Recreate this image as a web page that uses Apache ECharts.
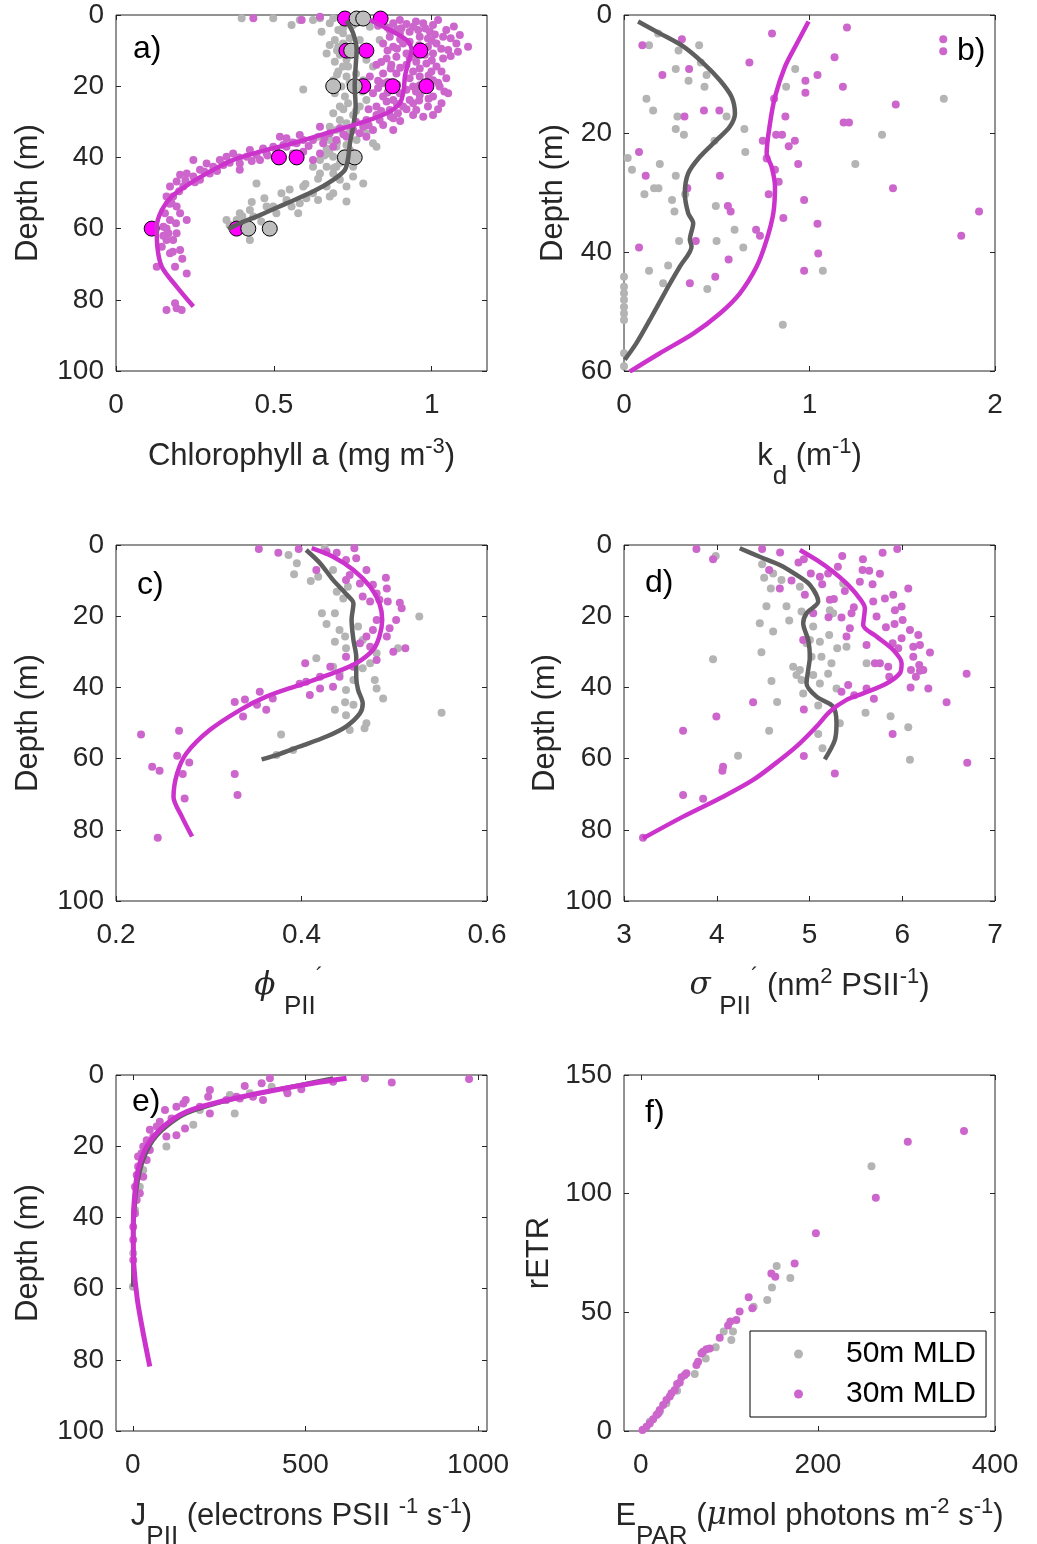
<!DOCTYPE html>
<html><head><meta charset="utf-8">
<script src="https://cdn.jsdelivr.net/npm/echarts@6/dist/echarts.min.js"></script>
<style>html,body{margin:0;padding:0;background:#fff}#c{width:1037px;height:1544px}</style>
</head><body><div id="c"></div>
<script>
// ---------- tick labels ----------
const depthTicks100 = [0, 20, 40, 60, 80, 100];
const depthTicks60 = [0, 20, 40, 60];
const rETRTicks = [0, 50, 100, 150];
const xTicksA = [0, 0.5, 1];
const xTicksB = [0, 1, 2];
const xTicksC = [0.2, 0.4, 0.6];
const xTicksD = [3, 4, 5, 6, 7];
const xTicksE = [0, 500, 1000];
const xTicksF = [0, 200, 400];
const panelLabels = ['a)', 'b)', 'c)', 'd)', 'e)', 'f)'];
const legendNames = ['50m MLD', '30m MLD'];

// ---------- panel a: chlorophyll a vs depth ----------
const aGrayPts = [[0.398,0.9],[0.498,0.9],[0.556,2.8],[0.582,1.4],[0.624,1.4],[0.646,0.9],[0.651,4.7],[0.677,2.3],[0.688,0.9],[0.704,4.2],[0.693,7.0],[0.677,8.4],[0.709,11.2],[0.693,13.1],[0.719,14.5],[0.704,15.9],[0.688,18.3],[0.593,20.9],[0.730,17.3],[0.725,22.9],[0.709,25.7],[0.688,27.6],[0.751,28.1],[0.730,30.4],[0.698,32.3],[0.677,35.1],[0.667,37.5],[0.688,39.8],[0.646,40.7],[0.624,42.6],[0.688,44.5],[0.709,46.3],[0.667,48.2],[0.624,50.1],[0.603,51.5],[0.540,52.0],[0.477,53.8],[0.424,54.8],[0.392,55.7],[0.350,57.6],[0.424,63.2],[0.445,47.3],[0.524,50.1],[0.577,55.7],[0.730,52.4],[0.783,47.3],[0.751,45.4],[0.814,36.0],[0.825,37.0],[0.793,33.2],[0.772,25.7],[0.783,18.3],[0.793,12.6],[0.772,7.0],[0.751,2.8],[0.804,3.3],[0.835,7.0],[0.814,14.5],[0.793,23.9],[0.762,35.1],[0.741,37.9],[0.698,42.6],[0.677,51.0],[0.640,52.0],[0.593,48.2],[0.556,53.8],[0.508,55.7],[0.382,57.6],[0.751,42.6],[0.735,14.5],[0.719,8.0],[0.741,10.8],[0.714,20.1],[0.693,22.0],[0.735,24.8],[0.709,29.5],[0.677,31.4],[0.640,34.2],[0.698,37.0],[0.719,38.9],[0.667,42.6],[0.646,44.5],[0.730,48.2],[0.688,50.1],[0.582,52.9],[0.498,53.8],[0.435,56.6],[0.762,39.8],[0.677,38.9],[0.704,8.9],[0.667,10.8],[0.719,5.1],[0.72,3.5],[0.74,6.5],[0.70,10.0],[0.73,12.5],[0.76,16.5],[0.70,16.8],[0.74,19.0],[0.78,21.5],[0.72,26.5],[0.76,27.0],[0.71,31.8],[0.74,33.0],[0.70,35.8],[0.73,36.5],[0.66,39.5],[0.71,41.5],[0.69,43.0],[0.64,46.0],[0.60,47.5],[0.55,49.0],[0.47,51.5],[0.43,52.5],[0.40,56.5],[0.46,58.0],[0.36,59.0]];
const aMagPts = [[0.435,0.9],[0.588,1.4],[0.646,0.5],[0.846,1.9],[0.878,2.3],[0.899,1.4],[0.941,3.3],[0.973,2.3],[1.004,2.8],[1.020,1.4],[1.046,4.2],[1.089,5.6],[1.115,8.9],[1.083,10.3],[1.036,6.1],[0.994,4.7],[0.962,6.1],[0.930,4.7],[0.899,5.1],[0.867,6.1],[0.846,8.0],[0.878,8.9],[0.909,8.0],[0.988,8.9],[1.004,10.8],[1.036,12.2],[1.015,14.5],[0.983,13.6],[0.951,13.1],[0.888,11.7],[0.857,12.2],[0.825,14.0],[0.846,16.4],[0.888,16.4],[0.941,15.9],[0.962,17.3],[1.004,18.3],[1.025,20.1],[1.004,22.9],[0.962,22.5],[0.930,23.9],[0.899,22.0],[0.878,23.9],[0.846,22.9],[0.814,22.0],[0.804,17.3],[0.825,25.7],[0.867,26.7],[0.909,25.7],[0.951,26.7],[1.004,28.1],[0.973,28.6],[0.941,28.1],[0.878,29.0],[0.835,29.5],[0.793,29.5],[0.751,32.3],[0.793,34.2],[0.878,32.3],[0.846,30.9],[0.814,32.3],[0.709,31.8],[0.677,33.2],[0.646,31.4],[0.624,35.1],[0.582,33.7],[0.572,36.0],[0.540,37.0],[0.498,37.0],[0.466,37.5],[0.445,39.3],[0.414,39.8],[0.392,41.7],[0.350,39.8],[0.340,42.1],[0.308,42.6],[0.287,41.7],[0.266,43.5],[0.245,40.7],[0.224,44.5],[0.203,44.9],[0.192,46.8],[0.171,48.2],[0.160,51.0],[0.176,52.9],[0.155,55.7],[0.150,59.5],[0.171,57.6],[0.192,61.3],[0.160,63.2],[0.145,65.1],[0.181,63.2],[0.171,66.9],[0.203,66.0],[0.224,72.6],[0.129,70.7],[0.187,70.7],[0.160,82.9],[0.192,82.4],[0.208,82.9],[0.187,81.0],[0.624,40.7],[0.646,38.9],[0.593,38.4],[0.561,38.9],[0.688,37.0],[0.751,38.9],[0.772,33.2],[0.519,34.2],[0.477,38.9],[0.392,43.5],[0.266,46.3],[0.867,4.2],[0.904,3.7],[0.957,4.2],[0.988,6.6],[1.015,8.0],[1.052,9.8],[1.078,8.0],[0.920,10.8],[0.946,11.2],[0.978,11.2],[1.031,15.9],[0.999,15.9],[0.962,15.0],[0.920,14.0],[0.872,14.0],[0.841,19.2],[0.872,20.1],[0.941,20.1],[0.962,19.7],[1.046,17.8],[1.052,22.0],[1.031,24.8],[0.988,25.7],[0.941,24.8],[0.893,27.6],[0.857,24.3],[0.825,28.1],[0.783,31.4],[0.730,34.2],[0.698,35.1],[0.656,36.0],[0.593,35.1],[0.540,34.6],[0.508,38.4],[0.456,40.7],[0.424,37.9],[0.371,38.9],[0.329,40.7],[0.297,44.5],[0.245,45.4],[0.213,48.2],[0.181,51.0],[0.192,53.8],[0.203,55.7],[0.166,61.3],[0.224,57.6],[0.83,3.0],[0.86,3.5],[0.89,4.0],[0.92,2.5],[0.95,1.8],[0.98,3.8],[1.01,5.5],[1.06,6.5],[1.07,3.2],[0.90,6.8],[0.93,7.5],[0.96,8.5],[1.00,7.2],[1.03,9.5],[1.06,11.5],[0.86,10.0],[0.89,9.5],[0.93,12.0],[0.97,10.0],[1.00,12.8],[0.84,13.2],[0.87,15.0],[0.90,14.8],[0.93,17.8],[0.99,17.0],[1.02,19.0],[0.83,18.5],[0.86,18.8],[0.89,19.5],[0.92,21.0],[0.95,21.5],[0.98,20.8],[1.04,21.5],[0.83,20.5],[0.86,21.8],[0.89,25.0],[0.92,26.5],[0.96,24.0],[0.99,23.5],[1.02,26.5],[0.80,26.5],[0.84,27.0],[0.87,28.5],[0.90,29.8],[0.80,31.0],[0.76,30.0],[0.72,33.5],[0.66,34.5],[0.61,36.8],[0.56,35.8],[0.53,36.5],[0.48,39.5],[0.43,41.0],[0.39,40.0],[0.36,41.5],[0.32,43.8],[0.28,44.0],[0.25,47.0],[0.22,46.5],[0.20,49.5],[0.17,53.0],[0.19,58.5],[0.16,60.0],[0.18,66.5],[0.21,68.5],[0.15,62.0]];
const aGrayLine = [[0.730,1.6],[0.751,5.1],[0.762,9.8],[0.759,14.5],[0.756,20.1],[0.759,25.7],[0.751,31.4],[0.741,36.0],[0.735,40.3],[0.725,43.5],[0.688,46.3],[0.624,49.6],[0.540,52.9],[0.456,56.2],[0.392,58.5],[0.355,60.2]];
const aMagLine = [[0.804,1.4],[0.867,4.2],[0.920,7.0],[0.936,9.8],[0.925,13.6],[0.915,17.3],[0.911,21.1],[0.899,24.8],[0.857,27.6],[0.772,30.4],[0.667,33.2],[0.561,36.0],[0.456,38.4],[0.371,40.7],[0.308,43.5],[0.234,47.3],[0.176,51.0],[0.145,54.8],[0.129,59.5],[0.131,65.1],[0.145,70.7],[0.192,76.3],[0.245,81.9]];
const aGrayBig = [[0.762,1],[0.783,1],[0.745,10],[0.688,20],[0.756,20],[0.725,40],[0.756,40],[0.419,60],[0.487,60]];
const aMagBig = [[0.725,1],[0.838,1],[0.730,10],[0.793,10],[0.964,10],[0.783,20],[0.876,20],[0.983,20],[0.516,40],[0.572,40],[0.113,60],[0.382,60]];

// ---------- panel b: kd vs depth ----------
const bGrayPts = [[0.184,3.1],[0.135,5.1],[0.294,6.0],[0.405,5.1],[0.414,8.0],[0.279,9.1],[0.348,11.1],[0.445,10.1],[0.434,12.1],[0.923,9.1],[0.874,12.1],[0.121,14.1],[0.157,16.1],[0.288,17.1],[0.553,17.1],[0.279,19.2],[0.323,20.2],[0.488,21.2],[0.649,19.2],[0.654,23.1],[0.020,24.1],[0.043,26.1],[0.193,25.1],[0.279,27.1],[0.162,29.2],[0.186,29.2],[0.110,30.2],[0.341,29.2],[0.330,30.2],[0.259,31.2],[0.272,33.1],[0.495,32.2],[0.596,36.2],[0.297,38.1],[0.499,38.1],[0.643,39.2],[0.135,43.1],[0.238,42.2],[0.211,45.2],[0.449,46.2],[1.072,43.1],[1.391,20.2],[1.247,25.1],[1.724,14.1],[0.856,52.2],[0,44.1],[0,45.8],[0,46.9],[0,48.0],[0,49.2],[0,50.3],[0,51.4],[0,57.0],[0,59.2]];
const bMagPts = [[1.202,2.1],[0.798,3.1],[0.099,5.1],[0.312,4.1],[0.676,8.0],[1.135,7.1],[0.207,10.1],[0.351,9.1],[1.043,10.1],[0.978,11.1],[0.978,13.1],[1.180,12.1],[1.465,15.1],[0.809,14.1],[0.870,17.1],[0.431,16.1],[0.514,16.1],[0.326,17.1],[1.184,18.1],[1.213,18.1],[0.820,20.2],[0.852,20.2],[0.748,21.2],[0.921,21.2],[0.888,22.1],[0.081,23.1],[0.769,24.2],[0.939,25.1],[0.117,27.1],[0.517,27.1],[0.814,26.1],[0.834,28.1],[1.450,29.2],[0.780,30.2],[0.341,29.2],[0.971,31.2],[0.560,32.2],[0.575,33.1],[0.859,34.2],[1.043,35.2],[0.712,36.2],[0.733,37.2],[0.387,38.1],[1.914,33.1],[1.818,37.2],[0.081,39.2],[1.047,40.2],[0.564,41.2],[0.971,43.1],[0.492,44.1],[0.355,45.2],[1.721,4.1],[1.721,6.1]];
const bGrayLine = [[0.076,1.1],[0.193,3.1],[0.319,5.3],[0.427,8.1],[0.517,11.0],[0.580,13.8],[0.598,16.6],[0.571,18.8],[0.499,21.1],[0.409,23.9],[0.346,26.7],[0.328,30.1],[0.346,33.4],[0.373,35.1],[0.355,37.9],[0.364,39.0],[0.301,42.4],[0.229,46.3],[0.139,51.4],[0.067,55.3],[0.004,58.1]];
const bMagLine = [[0.995,1.1],[0.932,4.8],[0.868,8.7],[0.814,13.8],[0.787,18.3],[0.769,23.3],[0.796,25.6],[0.814,28.9],[0.805,33.4],[0.769,37.9],[0.715,42.4],[0.625,46.9],[0.517,50.3],[0.373,53.7],[0.193,57.0],[0.031,60.1]];

// ---------- panel c: phi_PII' vs depth ----------
const cGrayPts = [[0.386,2.8],[0.395,5.1],[0.392,8.2],[0.410,10.1],[0.418,8.9],[0.425,0.9],[0.434,7.0],[0.438,13.1],[0.445,15.0],[0.450,11.7],[0.422,19.2],[0.427,22.2],[0.436,19.2],[0.441,23.9],[0.436,27.2],[0.448,29.0],[0.447,25.7],[0.461,22.9],[0.466,26.7],[0.481,30.4],[0.504,29.0],[0.527,20.1],[0.416,31.8],[0.434,34.2],[0.441,36.0],[0.456,37.9],[0.466,34.6],[0.479,37.9],[0.481,40.3],[0.488,43.1],[0.448,40.7],[0.447,44.2],[0.456,44.9],[0.436,46.3],[0.448,47.8],[0.452,52.0],[0.470,50.1],[0.468,51.5],[0.378,53.2],[0.551,47.1],[0.391,57.6],[0.373,59.0],[0.474,33.2]];
const cMagPts = [[0.354,1.1],[0.375,2.2],[0.397,1.1],[0.416,7.0],[0.427,1.9],[0.438,2.2],[0.448,4.2],[0.457,0.9],[0.459,3.7],[0.448,9.8],[0.452,8.4],[0.463,10.8],[0.470,7.0],[0.477,11.2],[0.491,9.2],[0.492,12.2],[0.466,14.5],[0.474,15.9],[0.481,13.6],[0.484,15.4],[0.493,15.9],[0.506,16.2],[0.508,17.8],[0.502,21.1],[0.495,23.4],[0.492,25.7],[0.499,30.0],[0.512,29.0],[0.481,21.1],[0.477,23.9],[0.470,25.7],[0.463,27.6],[0.474,28.6],[0.481,32.3],[0.456,34.2],[0.441,37.0],[0.431,34.2],[0.404,33.2],[0.420,37.0],[0.409,42.1],[0.398,39.0],[0.405,38.4],[0.434,39.8],[0.420,40.3],[0.355,41.2],[0.369,43.1],[0.362,46.3],[0.352,44.9],[0.339,43.4],[0.328,44.1],[0.337,48.2],[0.227,53.2],[0.268,52.2],[0.266,59.2],[0.279,61.1],[0.239,62.3],[0.247,63.4],[0.272,64.3],[0.328,64.3],[0.274,71.2],[0.331,70.2],[0.245,82.2],[0.448,31.4]];
const cGrayLine = [[0.405,1.4],[0.420,5.1],[0.434,9.8],[0.449,14.0],[0.456,16.4],[0.454,21.1],[0.456,26.7],[0.459,31.4],[0.459,37.0],[0.461,40.7],[0.466,44.5],[0.463,47.3],[0.448,51.0],[0.427,53.8],[0.398,56.6],[0.373,59.0],[0.357,60.2]];
const cMagLine = [[0.411,0.9],[0.434,3.3],[0.456,7.0],[0.474,11.7],[0.484,16.4],[0.487,21.1],[0.484,25.7],[0.477,29.5],[0.459,33.2],[0.434,36.0],[0.398,39.3],[0.362,42.6],[0.334,46.3],[0.301,52.0],[0.276,58.5],[0.266,64.1],[0.262,70.7],[0.271,76.3],[0.282,81.9]];

// ---------- panel d: sigma_PII' vs depth ----------
const dGrayPts = [[3.989,3.1],[4.489,5.4],[4.511,9.2],[4.608,8.0],[4.583,12.2],[4.536,17.2],[4.698,9.8],[4.752,17.2],[4.781,21.2],[4.896,11.7],[4.914,18.7],[5.040,22.9],[5.004,26.7],[5.112,27.2],[5.219,18.3],[5.212,25.3],[5.299,29.0],[5.399,28.6],[5.129,31.4],[5.237,33.2],[5.201,36.2],[5.040,36.5],[4.824,34.2],[4.860,36.5],[4.914,37.9],[4.932,41.7],[5.112,38.9],[5.094,45.1],[5.140,57.1],[5.291,40.3],[5.327,50.1],[5.615,33.2],[5.604,47.1],[5.874,48.1],[6.065,51.2],[6.083,60.3],[4.464,22.0],[4.608,24.3],[4.482,30.1],[3.960,32.1],[4.590,38.2],[4.651,44.1],[4.565,52.2],[4.230,59.2],[5.094,53.1],[4.968,27.6],[5.022,31.4],[4.896,35.1],[5.363,10.8],[5.255,19.2]];
const dMagPts = [[3.781,1.1],[3.960,4.0],[4.489,1.1],[4.565,7.0],[4.683,2.1],[4.680,12.2],[4.806,10.0],[4.881,4.9],[4.939,4.0],[4.950,14.0],[5.014,8.0],[5.112,8.9],[5.137,11.0],[5.201,8.0],[5.263,15.2],[5.306,6.1],[5.353,3.1],[5.381,12.9],[5.453,19.2],[5.478,17.5],[5.543,10.3],[5.576,4.0],[5.572,7.0],[5.644,7.2],[5.680,11.0],[5.759,8.1],[5.788,2.2],[5.946,1.1],[5.813,15.0],[5.903,14.0],[5.921,18.3],[5.993,17.3],[6.004,21.1],[6.065,12.2],[5.687,15.9],[5.723,20.1],[5.824,23.1],[5.917,22.2],[5.896,27.6],[5.957,29.0],[5.993,26.2],[6.083,23.9],[6.173,25.3],[6.119,28.6],[6.191,28.1],[6.299,30.2],[6.119,31.4],[6.183,33.7],[6.094,35.1],[6.191,35.3],[6.227,35.1],[6.147,37.0],[6.090,40.0],[6.281,40.3],[6.478,44.2],[6.694,36.2],[6.701,61.2],[5.759,33.2],[5.705,33.2],[5.849,34.2],[5.860,37.0],[5.615,40.3],[5.694,43.2],[5.482,42.2],[5.417,39.3],[5.345,41.2],[4.939,46.2],[4.392,44.2],[3.996,48.2],[3.637,52.2],[5.896,53.1],[4.939,59.3],[5.273,64.2],[4.068,62.3],[4.061,63.4],[3.637,70.2],[3.853,71.3],[3.205,82.2],[5.615,28.1],[5.435,23.4],[5.345,20.4],[5.205,20.3],[4.932,26.7],[5.399,25.7],[5.040,19.2],[5.219,15.4]];
const dGrayLine = [[4.248,0.9],[4.464,3.3],[4.680,5.6],[4.860,8.4],[5.004,11.2],[5.094,15.9],[4.968,19.2],[4.932,22.0],[4.986,26.7],[5.004,31.4],[4.986,35.1],[4.968,38.9],[5.076,42.6],[5.255,45.4],[5.291,50.1],[5.273,54.8],[5.165,60.2]];
const dMagLine = [[4.896,1.4],[5.076,4.2],[5.255,7.5],[5.399,10.8],[5.525,14.5],[5.597,17.8],[5.579,22.5],[5.723,25.7],[5.903,29.5],[5.993,33.2],[5.975,36.0],[5.831,38.9],[5.579,41.7],[5.399,43.5],[5.219,46.8],[5.076,51.0],[4.896,55.7],[4.680,60.4],[4.392,66.0],[4.068,70.7],[3.637,76.3],[3.205,82.4]];

// ---------- panel e: J_PII vs depth ----------
const eGrayPts = [[402,3.3],[672,0.9],[281,5.6],[295,10.8],[175,14.0],[97,20.1],[194,9.8],[339,5.1],[20,31.4],[1,50.1],[0,59.5],[6,37.9],[30,26.7]];
const eMagPts = [[397,0.9],[672,0.9],[750,2.1],[974,1.1],[488,4.0],[448,5.1],[373,2.3],[324,3.1],[348,6.1],[377,7.0],[310,6.6],[223,4.2],[218,6.1],[153,7.0],[146,8.0],[223,10.8],[194,8.9],[126,8.9],[93,9.8],[112,12.2],[78,13.1],[69,14.5],[49,15.4],[59,17.3],[40,18.3],[30,20.1],[25,22.0],[40,23.9],[15,25.7],[11,28.1],[6,31.4],[11,35.1],[6,38.9],[1,42.6],[1,46.3],[1,52.0],[15,22.9],[49,21.1],[97,17.3],[126,16.9],[151,15.0],[271,7.0],[300,6.1],[445,4.2],[580,1.9],[30,28.6],[20,33.2]];
const eGrayLine = [[580,0.9],[484,2.8],[368,5.1],[242,8.0],[155,10.8],[97,14.5],[59,18.3],[30,23.9],[15,29.5],[7,35.1],[2,42.6],[1,52.0],[0,59.5]];
const eMagLine = [[619,0.9],[522,2.3],[387,4.7],[252,7.5],[155,10.3],[88,14.5],[40,20.1],[15,26.7],[4,35.1],[1,44.5],[3,53.8],[13,63.2],[30,72.6],[49,81.9]];

// ---------- panel f: rETR vs E_PAR ----------
const fGrayPts = [[260.5,111.5],[153.4,69.5],[168.8,64.5],[148.1,60.5],[142.8,55.2],[127.4,52.4],[104.1,41.9],[93.6,41.9],[102.2,38.3],[84.6,35.3],[73.3,30.6],[60.9,24.0],[41.0,17.0],[28.9,11.7],[21.4,8.1],[10.1,3.9]];
const fMagPts = [[365.0,126.4],[301.5,121.9],[265.4,98.3],[197.7,83.3],[173.7,70.6],[147.4,66.4],[151.9,65.0],[121.8,56.4],[125.9,51.7],[111.6,50.3],[107.9,46.8],[101.1,46.1],[98.5,44.4],[89.1,39.3],[77.8,34.8],[74.1,34.4],[70.3,33.4],[68.4,32.7],[64.7,29.2],[62.8,27.8],[51.5,24.3],[45.9,22.6],[44.0,20.4],[38.3,17.3],[34.6,15.9],[28.9,13.1],[25.2,11.0],[21.4,8.9],[17.7,6.7],[13.9,4.9],[10.1,3.2],[6.4,1.8],[1.9,0.4],[49.6,23.6],[41.0,19.8],[32.7,14.5],[19.5,7.4]];

// ---------- styling ----------
const FONT = '"Liberation Sans", Arial, Helvetica, sans-serif';
const SERIF = '"DejaVu Serif", "Liberation Serif", serif';
const AX = '#262626';
const GRAY_PT = '#b4b4b4', MAG_PT = '#cc66cc';
const GRAY_LN = '#5e5e5e', MAG_LN = '#cc33cc';
const NAME_SIZE = 31;
const NAME_LH = 56;
const RICH = {
  sup: {fontSize: 22, height: 38, verticalAlign: 'top', fontFamily: FONT, color: AX},
  sub: {fontSize: 26, height: 14, verticalAlign: 'bottom', fontFamily: FONT, color: AX},
  gk: {fontSize: 31, lineHeight: NAME_LH, fontFamily: SERIF, fontStyle: 'italic', color: AX}
};

const grids = [
  {left: 116, top: 15}, {left: 624, top: 15},
  {left: 116, top: 545}, {left: 624, top: 545},
  {left: 116, top: 1075}, {left: 624, top: 1075}
].map(g => Object.assign(g, {width: 371, height: 356, show: true, borderColor: AX, borderWidth: 1,
  backgroundColor: 'transparent', containLabel: false, outerBoundsMode: 'none'}));

function tick(ticks) { return {show: true, inside: true, length: 5, lineStyle: {color: AX, width: 1}, customValues: ticks}; }
const plain = v => String(v);

function xAxes(g, min, max, ticks, name, fmt) {
  const common = () => ({gridIndex: g, type: 'value', min: min, max: max, splitLine: {show: false}, axisLine: {show: false, onZero: false}});
  const bt = Object.assign(common(), {
    position: 'bottom', name: name, nameLocation: 'middle', nameGap: 57,
    nameTextStyle: {fontSize: NAME_SIZE, color: AX, fontFamily: FONT, lineHeight: NAME_LH, rich: RICH},
    axisTick: tick(ticks),
    axisLabel: {show: true, margin: 20, fontSize: 28, lineHeight: 28, color: AX, fontFamily: FONT, customValues: ticks, formatter: fmt || plain}
  });
  const tp = Object.assign(common(), {position: 'top', axisTick: tick(ticks), axisLabel: {show: false}});
  return [bt, tp];
}
function yAxes(g, min, max, ticks, inverse, name, gap) {
  const common = () => ({gridIndex: g, type: 'value', min: min, max: max, inverse: inverse, splitLine: {show: false}, axisLine: {show: false, onZero: false}});
  const lf = Object.assign(common(), {
    position: 'left', name: name, nameLocation: 'middle', nameGap: gap, nameRotate: 90,
    nameTextStyle: {fontSize: NAME_SIZE, color: AX, fontFamily: FONT, lineHeight: 31},
    axisTick: tick(ticks),
    axisLabel: {show: true, margin: 12, fontSize: 28, color: AX, fontFamily: FONT, customValues: ticks, formatter: plain}
  });
  const rt = Object.assign(common(), {position: 'right', axisTick: tick(ticks), axisLabel: {show: false}});
  return [lf, rt];
}

const fmtC = v => v.toFixed(1);

const xAxis = [].concat(
  xAxes(0, 0, 1.175, xTicksA, 'Chlorophyll a (mg m{sup|-3})'),
  xAxes(1, 0, 2, xTicksB, 'k{sub|d} (m{sup|-1})'),
  xAxes(2, 0.2, 0.6, xTicksC, '{gk|ϕ} {sub|PII}{sup|\u00b4}   ', fmtC),
  xAxes(3, 3, 7, xTicksD, '{gk|σ} {sub|PII}{sup|\u00b4} (nm{sup|2} PSII{sup|-1})'),
  xAxes(4, -49, 1026, xTicksE, 'J{sub|PII} (electrons PSII {sup|-1} s{sup|-1})'),
  xAxes(5, -19, 400, xTicksF, 'E{sub|PAR} ({gk|μ}mol photons m{sup|-2} s{sup|-1})')
);
const yAxis = [].concat(
  yAxes(0, 0, 100, depthTicks100, true, 'Depth (m)', 72),
  yAxes(1, 0, 60, depthTicks60, true, 'Depth (m)', 55),
  yAxes(2, 0, 100, depthTicks100, true, 'Depth (m)', 72),
  yAxes(3, 0, 100, depthTicks100, true, 'Depth (m)', 55),
  yAxes(4, 0, 100, depthTicks100, true, 'Depth (m)', 72),
  yAxes(5, 0, 150, rETRTicks, false, 'rETR', 69)
);

function sc(name, g, data, color) {
  return {type: 'scatter', name: name, xAxisIndex: 2 * g, yAxisIndex: 2 * g, data: data,
    symbol: 'circle', symbolSize: 8, itemStyle: {color: color, opacity: 1}, z: 2,
    emphasis: {disabled: true}, silent: true, animation: false};
}
function big(name, g, data, color) {
  return {type: 'scatter', name: name, xAxisIndex: 2 * g, yAxisIndex: 2 * g, data: data,
    symbol: 'circle', symbolSize: 15, itemStyle: {color: color, borderColor: '#000', borderWidth: 1, opacity: 1}, z: 3,
    emphasis: {disabled: true}, silent: true, animation: false};
}
function ln(name, g, data, color, w) {
  return {type: 'line', name: name, xAxisIndex: 2 * g, yAxisIndex: 2 * g, data: data,
    showSymbol: false, smooth: 0.3, lineStyle: {color: color, width: w || 4.5}, itemStyle: {color: color}, z: 4,
    emphasis: {disabled: true}, silent: true, animation: false};
}

const series = [
  sc('a50', 0, aGrayPts, GRAY_PT), sc('a30', 0, aMagPts, MAG_PT),
  big('a30b', 0, aMagBig, '#ff00ff'), big('a50b', 0, aGrayBig, '#bdbdbd'),
  ln('a50l', 0, aGrayLine, GRAY_LN), ln('a30l', 0, aMagLine, MAG_LN),
  sc('b50', 1, bGrayPts, GRAY_PT), sc('b30', 1, bMagPts, MAG_PT),
  ln('b50l', 1, bGrayLine, GRAY_LN), ln('b30l', 1, bMagLine, MAG_LN),
  sc('c50', 2, cGrayPts, GRAY_PT), sc('c30', 2, cMagPts, MAG_PT),
  ln('c50l', 2, cGrayLine, GRAY_LN), ln('c30l', 2, cMagLine, MAG_LN),
  sc('d50', 3, dGrayPts, GRAY_PT), sc('d30', 3, dMagPts, MAG_PT),
  ln('d50l', 3, dGrayLine, GRAY_LN), ln('d30l', 3, dMagLine, MAG_LN),
  sc('e50', 4, eGrayPts, GRAY_PT), sc('e30', 4, eMagPts, MAG_PT),
  ln('e50l', 4, eGrayLine, GRAY_LN, 4), ln('e30l', 4, eMagLine, MAG_LN, 5),
  sc(legendNames[0], 5, fGrayPts, GRAY_PT), sc(legendNames[1], 5, fMagPts, MAG_PT)
];

const labelPos = [[133, 33], [957, 35], [137, 569], [645, 567], [132, 1086], [645, 1097]];
const title = panelLabels.map((t, i) => ({text: t, left: labelPos[i][0], top: labelPos[i][1], padding: 0,
  textStyle: {fontSize: 32, fontWeight: 'normal', color: '#000', fontFamily: FONT, lineHeight: 32}}));

const chart = echarts.init(document.getElementById('c'), null, {renderer: 'canvas'});
chart.setOption({
  animation: false,
  backgroundColor: '#fff',
  title: title,
  grid: grids,
  xAxis: xAxis,
  yAxis: yAxis,
  legend: {
    data: legendNames, orient: 'vertical', left: 750, top: 1331,
    icon: 'circle', itemWidth: 9, itemHeight: 9, itemGap: 10,
    padding: [8, 10, 8, 44], borderColor: '#000', borderWidth: 1, backgroundColor: '#fff',
    selectedMode: false,
    textStyle: {fontSize: 30, color: '#000', fontFamily: FONT, lineHeight: 30, padding: [0, 0, 0, 38]}
  },
  series: series
});
</script></body></html>
